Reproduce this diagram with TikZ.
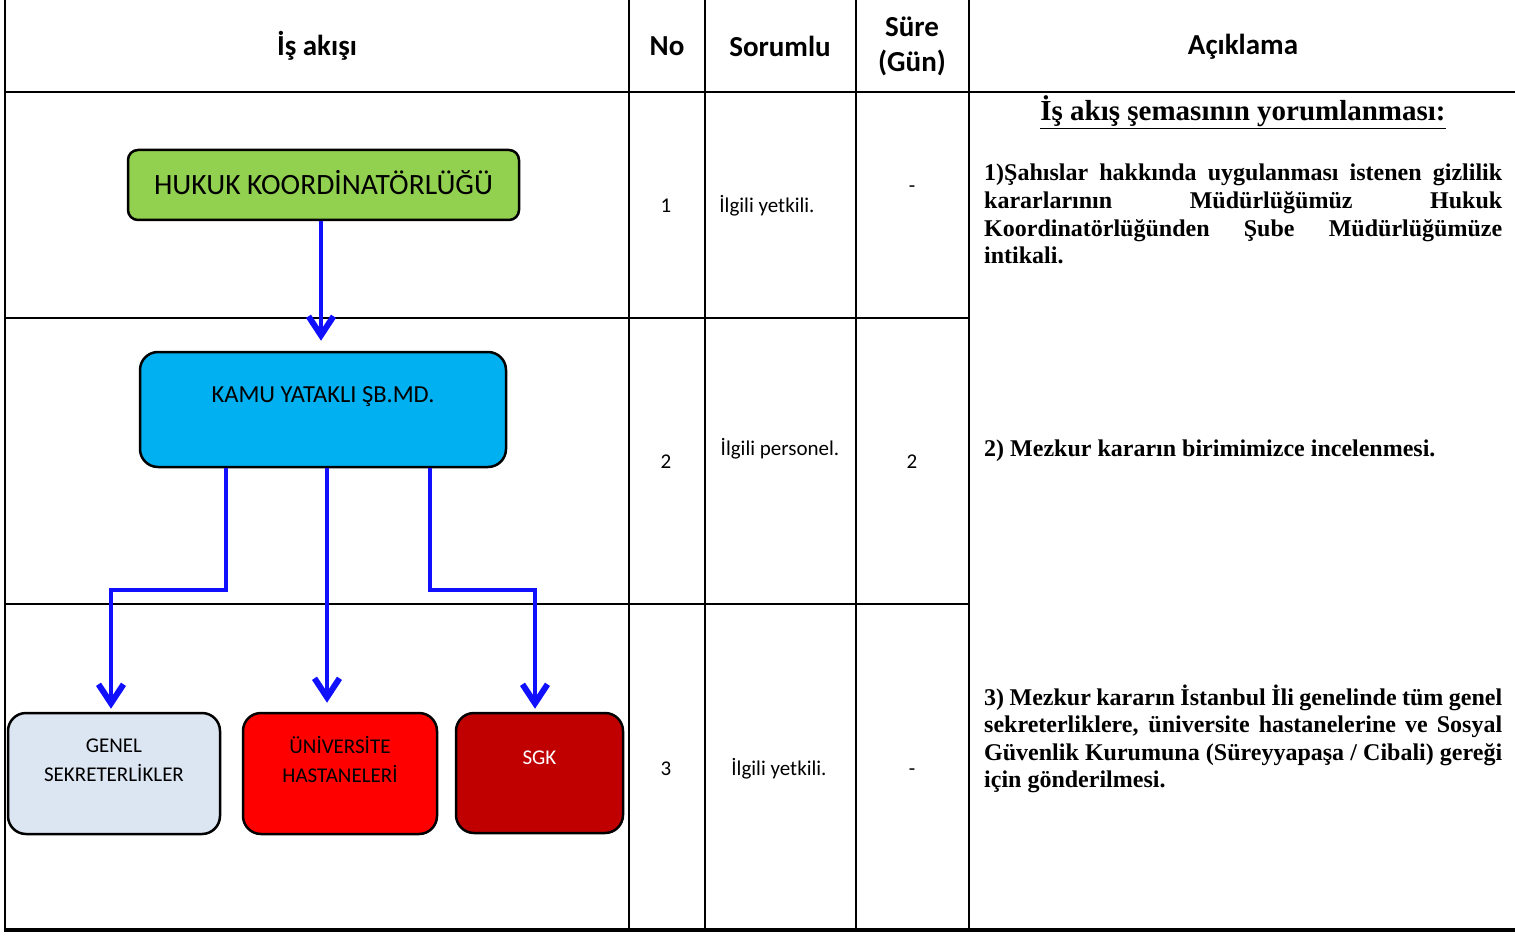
\documentclass[tikz,border=0pt]{standalone}
\usepackage{fontspec}
\setmainfont{Liberation Serif}
\newfontfamily\calibri{Carlito}
\usetikzlibrary{arrows.meta,positioning}
\hbadness=10000
\hyphenpenalty=10000
\exhyphenpenalty=10000
\definecolor{hukukgreen}{HTML}{92D050}
\definecolor{kamublue}{HTML}{00B0F0}
\definecolor{genelgray}{HTML}{DCE6F2}
\definecolor{univred}{HTML}{FF0000}
\definecolor{sgkred}{HTML}{C00000}
\definecolor{flowblue}{RGB}{16,16,255}
\tikzset{
  tableline/.style={line width=2.5pt},
  flowbox/.style={draw, line width=2.5pt, rounded corners=18pt, inner sep=0pt},
  boxtxt/.style={font=\calibri\fontsize{21}{29}\selectfont, align=center},
  headtxt/.style={font=\calibri\bfseries\fontsize{29}{35}\selectfont, align=center},
  celltxt/.style={font=\calibri\fontsize{21}{25}\selectfont, text height=1.5ex, text depth=.25ex},
  flowarrow/.style={draw=flowblue, line width=4.5pt, -{Straight Barb[length=19pt,width=25pt,line width=6pt]}},
  notetxt/.style={font=\bfseries\fontsize{24}{27.6}\selectfont, text width=518pt, align=justify, inner sep=0pt, anchor=base west}
}
\begin{document}
\begin{tikzpicture}[x=1pt,y=-1pt]
\useasboundingbox (0,0) rectangle (1515,936);

\foreach \x in {5,629,705,856,969}{
    \draw[tableline] (\x,0) -- (\x,930);
}
\draw[tableline] (5,92) -- (1515,92);
\foreach \y in {318,604}{
    \draw[tableline] (5,\y) -- (969,\y);
}
\draw[line width=4pt] (3.75,930) -- (1515,930);

\node[headtxt] (hakis) at (317,46) {İş akışı};
\node[headtxt] (hno) at (667,46) {No};
\node[headtxt] (hsorumlu) at (780,46) {Sorumlu};
\node[headtxt] (hsure) at (912,46) {Süre\\(Gün)};
\node[headtxt] (haciklama) at (1243,47) {Açıklama};

\foreach \n/\ny/\who/\wx/\wy/\gun/\gy in {1/210/İlgili yetkili./767/210/-/190, 2/466/İlgili personel./780/453/2/466, 3/773/İlgili yetkili./779/773/-/773}{
    \node[celltxt] (no\n) at (666,\ny) {\n};
    \node[celltxt] (sorumlu\n) at (\wx,\wy) {\who};
    \node[celltxt] (sure\n) at (912,\gy) {\gun};
}

\node[flowbox, fill=hukukgreen, rounded corners=10pt, minimum width=391pt, minimum height=70pt, text depth=6pt,
      font=\calibri\fontsize{29.5}{35}\selectfont] (hukuk) at (323.5,185) {HUKUK KOORDİNATÖRLÜĞÜ};
\node[flowbox, fill=kamublue, minimum width=366pt, minimum height=115pt,
      label={[boxtxt, font=\calibri\fontsize{24.5}{29}\selectfont, yshift=13pt]center:KAMU YATAKLI ŞB.MD.}] (kamu) at (323,409.5) {};
\node[flowbox, fill=genelgray, minimum width=212pt, minimum height=121pt,
      label={[boxtxt, yshift=13.5pt]center:GENEL\\SEKRETERLİKLER}] (genel) at (114,773.5) {};
\node[flowbox, fill=univred, minimum width=194pt, minimum height=121pt,
      label={[boxtxt, yshift=14.5pt]center:ÜNİVERSİTE\\HASTANELERİ}] (univ) at (340,773.5) {};
\node[flowbox, fill=sgkred, minimum width=167pt, minimum height=120pt,
      label={[boxtxt, text=white, yshift=15pt]center:SGK}] (sgk) at (539.5,773) {};

\coordinate (split) at (0,590);
\coordinate (ltop) at ([xshift=-97pt]kamu.south);
\coordinate (mtop) at ([xshift=4pt]kamu.south);
\coordinate (rtop) at ([xshift=107pt]kamu.south);
\coordinate (lbot) at ([xshift=-3pt]genel.north);
\coordinate (rbot) at ([xshift=-4.5pt]sgk.north);
\draw[flowarrow, shorten >=10pt] (hukuk.south -| 321,0) -- (kamu.north -| 321,0);
\draw[flowarrow, shorten >=3pt] (ltop) |- (split -| lbot) -- (lbot);
\draw[flowarrow, shorten >=9pt] (mtop) -- (mtop |- univ.north);
\draw[flowarrow, shorten >=3pt] (rtop) |- (split -| rbot) -- (rbot);

\node[font=\bfseries\fontsize{29}{33}\selectfont, anchor=base] (notetitle) at (1243,120.5) {\underline{İş akış şemasının yorumlanması:}};
\node[notetxt] (note1) at (984,181) {1)Şahıslar hakkında uygulanması istenen gizlilik\linebreak kararlarının Müdürlüğümüz Hukuk\linebreak Koordinatörlüğünden Şube Müdürlüğümüze\linebreak intikali.};
\node[notetxt] (note2) at (984,456) {2) Mezkur kararın birimimizce incelenmesi.};
\node[notetxt] (note3) at (984,705) {3) Mezkur kararın İstanbul İli genelinde tüm genel\linebreak sekreterliklere, üniversite hastanelerine ve Sosyal\linebreak Güvenlik Kurumuna (Süreyyapaşa / Cibali) gereği\linebreak için gönderilmesi.};
\end{tikzpicture}
\end{document}
